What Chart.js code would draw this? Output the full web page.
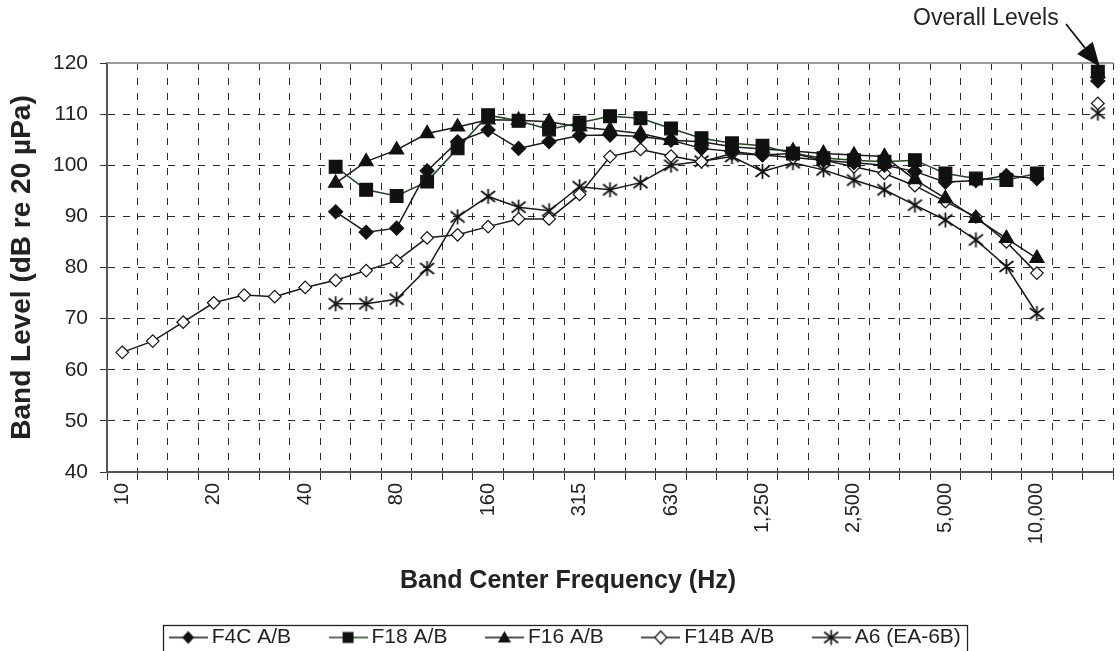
<!DOCTYPE html>
<html>
<head>
<meta charset="utf-8">
<script src="https://cdn.jsdelivr.net/npm/chart.js@4.4.1/dist/chart.umd.min.js"></script>
<style>
html,body{margin:0;padding:0;background:#fff;overflow:hidden;width:1120px;height:651px;}
#wrap{position:relative;width:1125px;height:658px;}
canvas{display:block;}
</style>
</head>
<body>
<div id="wrap"><canvas id="c" width="1125" height="658"></canvas></div>
<script>
// ---- data ----
const categories = ['10','12.5','16','20','25','31.5','40','50','63','80','100','125','160','200','250','315','400','500','630','800','1,000','1,250','1,600','2,000','2,500','3,150','4,000','5,000','6,300','8,000','10,000','','Overall'];
const tickLabels = ['10','20','40','80','160','315','630','1,250','2,500','5,000','10,000'];
const seriesNames = ['F4C A/B','F18 A/B','F16 A/B','F14B A/B','A6 (EA-6B)'];
const f4c  = [null,null,null,null,null,null,null,90.9,86.9,87.7,98.9,104.6,106.9,103.3,104.6,105.8,105.9,105.6,104.9,103.3,102.7,102.0,102.3,101.0,100.5,100.0,98.8,96.7,97.0,98.0,97.4,null,116.5];
const f18  = [null,null,null,null,null,null,null,99.7,95.2,94.0,96.8,103.3,109.8,108.7,107.0,108.3,109.6,109.2,107.2,105.3,104.3,103.8,102.3,101.4,101.0,100.7,101.0,98.4,97.4,97.1,98.4,null,118.3];
const f16  = [null,null,null,null,null,null,null,96.5,100.7,103.0,106.2,107.5,108.9,108.8,108.5,107.5,106.9,106.2,104.9,104.6,103.6,103.2,102.8,102.3,102.0,101.7,97.2,93.5,89.6,85.7,81.8,null,118.0];
const f14b = [63.4,65.6,69.3,73.1,74.6,74.3,76.1,77.5,79.4,81.3,85.8,86.4,88.0,89.5,89.5,94.3,101.7,103.1,101.8,100.7,102.3,102.0,101.5,101.0,99.7,98.4,96.0,92.9,89.9,85.0,78.9,null,112.1];
const a6   = [null,null,null,null,null,null,null,72.9,72.9,73.8,79.8,89.9,93.9,91.8,91.1,95.8,95.2,96.6,100.0,100.8,101.7,98.8,100.5,99.1,97.1,95.2,92.2,89.3,85.4,80.2,71.0,null,110.2];
const yTicks = [40,50,60,70,80,90,100,110,120];

const FONT = "'Liberation Sans', Arial, Helvetica, sans-serif";
const INK = '#1a1a1a';

function drawMarker(g, type, cx, cy) {
  g.save();
  g.fillStyle = '#111'; g.strokeStyle = '#111'; g.lineWidth = 1.2;
  g.beginPath();
  if (type === 'diamond' || type === 'odiamond') {
    g.moveTo(cx, cy - 6.5); g.lineTo(cx + 6, cy); g.lineTo(cx, cy + 6.5); g.lineTo(cx - 6, cy); g.closePath();
    if (type === 'odiamond') { g.fillStyle = '#fff'; g.fill(); g.stroke(); } else g.fill();
  } else if (type === 'square') {
    g.rect(cx - 5.5, cy - 5.5, 11, 11); g.fill();
  } else if (type === 'triangle') {
    g.moveTo(cx, cy - 6.5); g.lineTo(cx + 6.5, cy + 5); g.lineTo(cx - 6.5, cy + 5); g.closePath(); g.fill();
  } else if (type === 'star') {
    g.lineWidth = 1.7;
    g.moveTo(cx, cy - 7.5); g.lineTo(cx, cy + 7.5);
    g.moveTo(cx - 7, cy - 5.5); g.lineTo(cx + 7, cy + 5.5);
    g.moveTo(cx - 7, cy + 5.5); g.lineTo(cx + 7, cy - 5.5);
    g.stroke();
  }
  g.restore();
}
function makeAsterisk() {
  const c = document.createElement('canvas'); c.width = 17; c.height = 17;
  drawMarker(c.getContext('2d'), 'star', 8.5, 8.5);
  return c;
}
function makeLegendImg(type, lineColor) {
  const c = document.createElement('canvas'); c.width = 39; c.height = 18;
  const g = c.getContext('2d');
  g.strokeStyle = lineColor; g.lineWidth = 1.5;
  g.beginPath(); g.moveTo(0, 9); g.lineTo(39, 9); g.stroke();
  drawMarker(g, type, 19.5, 9);
  return c;
}
const LINE_GREEN = '#1e4a1e';
const legendImgs = [
  makeLegendImg('diamond', INK), makeLegendImg('square', LINE_GREEN), makeLegendImg('triangle', INK),
  makeLegendImg('odiamond', INK), makeLegendImg('star', INK)
];
const asterisk = makeAsterisk();

function ds(label, data, style, radius, lineColor, fill) {
  return {
    label, data,
    borderColor: lineColor, borderWidth: 1.5,
    pointStyle: style, pointRadius: radius, pointHoverRadius: radius,
    pointBackgroundColor: fill, pointBorderColor: '#111', pointBorderWidth: 1.2,
    spanGaps: false, tension: 0
  };
}

const overlay = {
  id: 'overlay',
  afterDraw(chart) {
    const ctx = chart.ctx, a = chart.chartArea, xs = chart.scales.x, ys = chart.scales.y;
    ctx.save();
    // top border of plot area
    ctx.strokeStyle = '#9a9a9a'; ctx.lineWidth = 2;
    ctx.beginPath(); ctx.moveTo(a.left, a.top); ctx.lineTo(a.right, a.top); ctx.stroke();
    // Overall Levels annotation
    ctx.fillStyle = '#222'; ctx.font = '23px ' + FONT;
    ctx.textAlign = 'left'; ctx.textBaseline = 'alphabetic';
    ctx.fillText('Overall Levels', 913, 25);
    const tipX = xs.getPixelForValue(32) + 2, tipY = ys.getPixelForValue(118.3) - 5;
    const sx = 1066, sy = 24;
    const ang = Math.atan2(tipY - sy, tipX - sx);
    const hl = 24, hw = 10;
    const bx = tipX - hl * Math.cos(ang), by = tipY - hl * Math.sin(ang);
    ctx.strokeStyle = '#111'; ctx.lineWidth = 1.7;
    ctx.beginPath(); ctx.moveTo(sx, sy); ctx.lineTo(bx, by); ctx.stroke();
    ctx.fillStyle = '#111';
    ctx.beginPath();
    ctx.moveTo(tipX, tipY);
    ctx.lineTo(bx + hw * Math.sin(ang), by - hw * Math.cos(ang));
    ctx.lineTo(bx - hw * Math.sin(ang), by + hw * Math.cos(ang));
    ctx.closePath(); ctx.fill();
    // legend frame
    const hb = chart.legend.legendHitBoxes;
    if (hb && hb.length) {
      const first = hb[0], last = hb[hb.length - 1];
      const cy = first.top + first.height / 2;
      const l = first.left - 12, r = last.left + last.width + 6;
      ctx.strokeStyle = '#222'; ctx.lineWidth = 1.3;
      ctx.strokeRect(Math.round(l) + 0.5, Math.round(cy - 13) + 0.5, Math.round(r - l), 60);
    }
    ctx.restore();
  }
};

new Chart(document.getElementById('c'), {
  type: 'line',
  data: {
    labels: categories,
    datasets: [
      ds(seriesNames[0], f4c, 'rectRot', 7, INK, '#111'),
      ds(seriesNames[1], f18, 'rect', 9, LINE_GREEN, '#111'),
      ds(seriesNames[2], f16, 'triangle', 8.2, INK, '#111'),
      ds(seriesNames[3], f14b, 'rectRot', 6.3, INK, '#fff'),
      ds(seriesNames[4], a6, asterisk, 8, INK, '#111')
    ]
  },
  options: {
    responsive: false,
    animation: false,
    devicePixelRatio: 1,
    layout: { padding: { left: 11, right: 0, top: 63, bottom: 0 } },
    plugins: {
      tooltip: { enabled: false },
      title: {
        display: true, position: 'bottom', text: 'Band Center Frequency (Hz)',
        color: '#222', font: { family: FONT, size: 25, weight: 'bold', lineHeight: 1 },
        padding: { top: 0, bottom: -11 }
      },
      legend: {
        display: true, position: 'bottom', weight: 3000,
        labels: {
          color: '#222', font: { family: FONT, size: 21 },
          usePointStyle: true, pointStyleWidth: 26, padding: 44,
          generateLabels(chart) {
            return chart.data.datasets.map((d, i) => ({
              text: d.label, pointStyle: legendImgs[i], datasetIndex: i,
              fillStyle: 'rgba(0,0,0,0)', strokeStyle: 'rgba(0,0,0,0)', lineWidth: 0,
              fontColor: '#222', hidden: false
            }));
          }
        }
      }
    },
    scales: {
      x: {
        type: 'category', offset: true,
        afterFit(s) { s.height = 97; },
        grid: { offset: true, color: '#2a2a2a', lineWidth: 1, tickLength: 8, tickColor: '#333', drawTicks: true },
        border: { display: true, color: '#555', width: 2, dash: [7, 8] },
        ticks: {
          autoSkip: false, maxRotation: 90, minRotation: 90, padding: 3,
          color: '#222', font: { family: FONT, size: 20 },
          callback(v, i) { const c = categories[i]; return tickLabels.includes(c) ? c : ''; }
        }
      },
      y: {
        min: 40, max: 120,
        afterFit(s) { s.width = 96; },
        afterBuildTicks(s) { s.ticks = yTicks.map(v => ({ value: v })); },
        grid: { color: '#2a2a2a', lineWidth: 1, tickLength: 7, tickColor: '#333', drawTicks: true },
        border: { display: true, color: '#555', width: 2, dash: [7, 8] },
        ticks: { padding: 12, color: '#222', font: { family: FONT, size: 21 } },
        title: {
          display: true, text: 'Band Level (dB re 20 µPa)', color: '#222',
          font: { family: FONT, size: 28, weight: 'bold', lineHeight: '22px' },
          padding: { top: 0, bottom: 0 }
        }
      }
    }
  },
  plugins: [overlay]
});
</script>
</body>
</html>
